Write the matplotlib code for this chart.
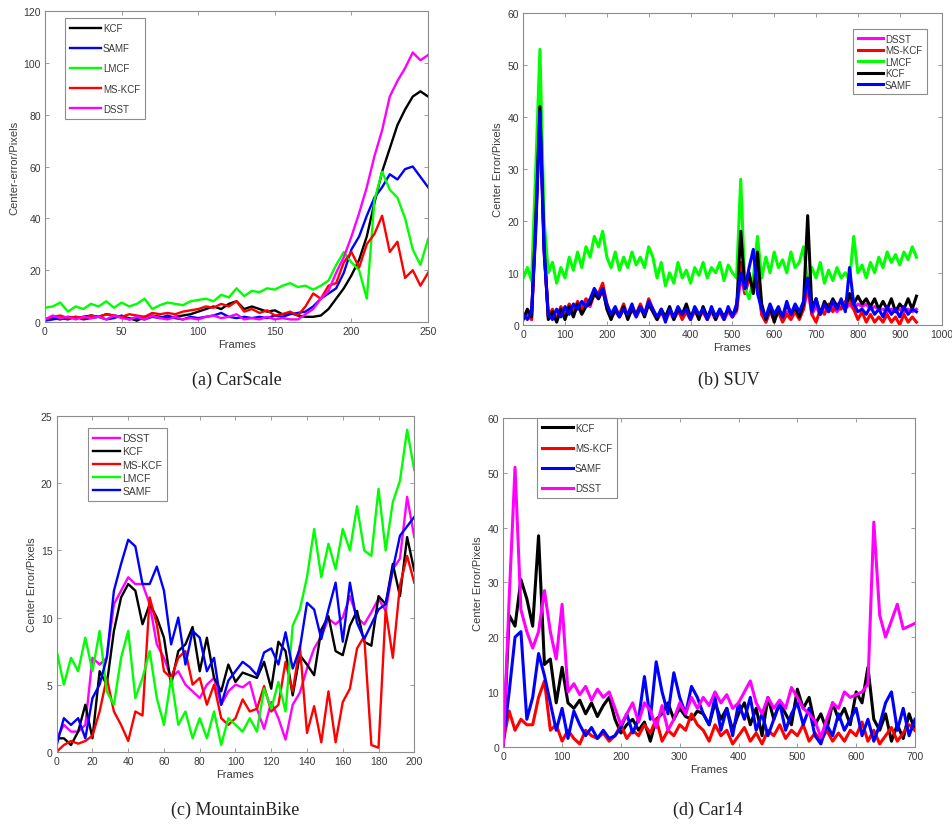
import numpy as np
import matplotlib
matplotlib.use("Agg")
import matplotlib.pyplot as plt

plt.rcParams['font.family'] = ['Liberation Sans', 'DejaVu Sans']

# ---------------- (a) CarScale ----------------
a_frames = np.arange(0, 251, 5)
a_kcf = [1, 1.5, 1, 2, 1.5, 2, 2.5, 2, 3, 2.5,
         2, 1.5, 0.5, 2, 2.5, 2, 1.5, 2, 2.5, 3,
         4, 5, 6, 5, 7, 8, 5, 6, 5, 4,
         4.5, 3, 3.5, 2.5, 2, 2, 2.5, 5, 9, 13,
         18, 24, 33, 46, 58, 67, 76, 82, 87, 89, 87]
a_samf = [0.5, 1, 1.5, 1, 2, 1, 1.5, 2, 1, 1.5,
          2.5, 1, 1.5, 1, 2, 1.5, 2.5, 1.5, 1, 2,
          1.5, 2, 2.5, 3.5, 2, 1.5, 2, 1.5, 2, 1.5,
          2.5, 2, 3, 3.5, 4, 6, 9, 11, 13, 19,
          28, 33, 41, 48, 52, 57, 55, 59, 60, 56, 52]
a_lmcf = [5.5, 6, 7.5, 4, 6, 5, 7, 6, 8, 5.5,
          7.5, 6, 7, 9, 5, 6.5, 7.5, 7, 6.5, 8,
          8.5, 9, 8, 10.5, 9.5, 13, 10, 12, 11.5, 13,
          12.5, 14, 15, 13.5, 14, 12.5, 14, 16, 22, 27,
          23, 20, 9, 47, 58, 51, 48, 40, 28, 22, 32]
a_mskcf = [1, 2, 2.5, 1.5, 2, 1.5, 2.5, 2, 3, 2.5,
           2, 3, 2.5, 2, 3.5, 3, 3.5, 3, 4, 4.5,
           5, 6, 5.5, 7, 6, 8, 4, 5, 3.5, 4.5,
           2.5, 3, 4, 2.5, 6, 11, 9, 14, 15, 23,
           27, 21, 30, 34, 41, 27, 31, 17, 20, 14, 19]
a_dsst = [1, 2.5, 1.5, 2, 1, 2, 1.5, 2, 1, 2.5,
          1.5, 1, 2, 1, 2.5, 1.5, 1, 2, 1, 1.5,
          1, 2, 2.5, 1.5, 2, 3, 1, 1.5, 1, 2,
          1, 1.5, 1, 1, 3, 5, 9, 12, 19, 25,
          33, 42, 52, 64, 74, 87, 93, 98, 104, 101, 103]

# ---------------- (b) SUV ----------------
b_frames = np.arange(0, 941, 10)
b_dsst = [1.5, 2, 1, 19, 41, 14, 1.5, 2, 1, 2.5,
          1.5, 3, 2, 3.5, 2.5, 4, 3.5, 6, 5, 6.5,
          3.5, 1.5, 2.5, 1.5, 3, 1.5, 3, 1.5, 3, 2,
          4, 2.5, 1, 2.5, 1, 2.5, 1, 2.5, 1.5, 2.5,
          1, 2.5, 1.5, 2.5, 1, 2.5, 1, 2.5, 1, 2.5,
          1.5, 2.5, 9, 6, 9, 7, 8, 2, 0.5, 2.5,
          1, 2.5, 1, 2.5, 1.5, 3, 1.5, 3, 7, 2,
          3.5, 2, 3.5, 2.5, 3.5, 2.5, 3.5, 3, 4, 3,
          4, 3.5, 4, 3, 3.5, 3, 3, 2.5, 3, 2.5,
          3, 2.5, 3, 2.5, 3]
b_mskcf = [1.5, 2.5, 1, 21, 43.5, 15, 1.5, 3, 1, 3.5,
           2, 4, 2.5, 4.5, 3, 5, 4, 6.5, 6, 8,
           4, 1.5, 3, 2, 4, 1.5, 3.5, 2, 4, 2,
           5, 3, 1, 2.5, 1, 3, 1.5, 3, 1, 2.5,
           1, 3, 1.5, 2.5, 1, 3, 1.5, 2.5, 1, 3,
           1.5, 3, 12, 6, 9, 7, 12, 2, 0.5, 3,
           1, 2.5, 0.5, 2, 1, 2.5, 1, 3, 8, 2,
           0.5, 3, 2, 4, 2.5, 4, 3, 4.5, 5, 3,
           1, 2.5, 0.5, 2, 0.5, 1.5, 0.5, 2, 0.5, 1.5,
           0, 2, 0.5, 1.5, 0.5]
b_lmcf = [9, 11, 8.5, 30, 53, 20, 10, 12, 8, 11,
          9, 13, 10.5, 14, 11, 15, 13, 17, 15, 18,
          13, 11, 14, 10.5, 13, 11, 14, 11.5, 13, 11,
          15, 13, 9, 12, 7.5, 10, 8, 12, 9, 10.5,
          8, 11, 9.5, 12, 9, 11, 10, 12, 8.5, 11.5,
          10, 9, 28, 7, 5, 9, 17, 9, 13, 10,
          14, 11, 12.5, 10, 14, 11, 12, 15, 8, 11,
          9, 12, 8, 10.5, 8.5, 11, 9, 10, 8.5, 17,
          10, 11.5, 9, 12, 10, 13, 11, 14, 12, 13.5,
          11.5, 14, 12.5, 15, 13]
b_kcf = [1, 3, 1.5, 20, 42, 15, 1, 2.5, 0.5, 3,
         1, 3.5, 1.5, 4, 2, 3.5, 4, 6, 5, 7,
         3, 1, 3, 1.5, 3.5, 1, 3, 2, 3.5, 1.5,
         4, 2.5, 1, 3, 1.5, 3.5, 1, 3, 2, 4,
         1.5, 3, 1, 3.5, 1.5, 3, 1, 3, 1.5, 3,
         2, 3, 18, 7, 10, 6, 14, 4, 1, 3.5,
         0.5, 3, 1.5, 4, 2, 3.5, 1.5, 4, 21, 3,
         5, 2, 4.5, 3, 5, 3.5, 4.5, 3, 6, 4,
         5.5, 4, 5, 3.5, 5, 3, 4.5, 3, 5, 2.5,
         4, 3, 5, 3, 5.5]
b_samf = [2, 1, 2.5, 18, 41, 14, 2, 1, 3, 1.5,
          3.5, 2, 4, 3, 4.5, 3.5, 5, 7, 5.5, 7,
          4, 2, 3.5, 1.5, 3, 2, 4, 1.5, 3.5, 2,
          4.5, 3, 1.5, 3, 0.5, 3, 1.5, 3.5, 2, 3,
          1, 3.5, 2, 3, 1, 3.5, 1.5, 3, 1, 3.5,
          1.5, 4, 10, 7, 11, 14.5, 6, 3, 1.5, 4,
          2, 3.5, 1.5, 4.5, 2, 4, 2.5, 4.5, 9, 2.5,
          5, 2, 4, 2.5, 4.5, 3, 5, 2.5, 11, 4,
          2.5, 3, 2, 3.5, 2, 3, 1.5, 3.5, 2, 3,
          1.5, 3.5, 2, 3, 2.5]

# ---------------- (c) MountainBike ----------------
c_frames = np.arange(0, 201, 4)
c_dsst = [1, 2, 1.5, 1.5, 2, 7, 6.5, 7, 11, 12,
          13, 12.5, 12.5, 11, 8, 7, 5.5, 6, 5, 4.5,
          4, 5, 5.5, 3.5, 4.5, 5, 4.8, 5.2, 3.2, 1.7,
          3.7, 2.5, 0.9, 3.5, 4.4, 6.2, 7.7, 8.6, 9.9, 9.5,
          10, 11.6, 10, 9.5, 10.4, 11.4, 10.5, 13.6, 14.4, 19, 16]
c_kcf = [1, 1, 0.5, 1.5, 3.5, 1, 6, 5, 9, 11.5,
         12.5, 12, 9.5, 11, 10, 8.5, 5, 7.5, 8, 9.3,
         6, 8.5, 5.5, 4.5, 6.5, 5.2, 5.9, 5.7, 5.5, 6.7,
         4.7, 8.2, 7.5, 4.2, 7.2, 6.5, 5.7, 9.1, 10.1, 7.5,
         7.2, 9.4, 10.5, 8.2, 7.9, 11.6, 11, 14, 11.6, 16, 13.5]
c_mskcf = [0, 0.5, 0.8, 0.6, 0.8, 1.2, 3, 5.5, 3, 2,
           0.8, 3, 2.7, 11.5, 9.5, 6, 5.5, 7, 7.5, 5,
           5.5, 3.5, 5, 2.5, 2, 2.5, 3.9, 3, 3.2, 4.9,
           3, 3.5, 6.7, 4.5, 7.9, 1.4, 3.4, 0.7, 4.5, 0.7,
           3.7, 4.7, 7.7, 8.6, 0.5, 0.3, 10.6, 7, 12.4, 14.6, 12.6]
c_lmcf = [7.5, 5, 7, 6, 8.5, 6, 9, 4.5, 3.5, 7,
          9, 4, 5.5, 7.5, 4, 2, 5.5, 2, 3, 1,
          2.5, 1, 3, 0.5, 2.5, 2, 1.5, 2.5, 1.5, 4.7,
          3.2, 5.2, 3, 9.4, 10.6, 13, 16.6, 13, 15.5, 13.6,
          16.6, 15, 18.3, 15, 14.6, 19.6, 15, 18.6, 20.2, 24, 21]
c_samf = [0.5, 2.5, 2, 2.5, 1, 4, 5, 7, 12, 14,
          15.8, 15.3, 12.5, 12.5, 13.8, 12, 8, 10, 6.5, 9,
          8.5, 6, 7, 3.5, 5.3, 6, 6.7, 6.3, 5.7, 7.4,
          7.7, 6.5, 8.9, 6.2, 7.7, 11.1, 10.6, 8.4, 10.6, 12.6,
          8.2, 12.6, 9.6, 8.4, 9.5, 10.6, 11, 13.6, 16.1, 16.8, 17.5]

# ---------------- (d) Car14 ----------------
d_frames = np.arange(0, 701, 10)
d_kcf = [0, 24, 22, 30.5, 27, 22, 38.5, 15, 16, 8,
         14.5, 8, 7, 8.5, 6, 8, 5.5, 7.5, 9, 5,
         2.5, 4, 5, 3, 4.5, 1, 5, 6, 8, 5,
         7, 5.5, 5, 6.5, 6, 4, 8, 5, 7, 3,
         6, 8, 4, 7, 2, 9, 5, 8, 6, 4,
         10.5, 7, 9, 4, 6, 3, 8, 5, 7, 4,
         10, 8, 14.5, 5, 3, 6, 1, 4, 1.5, 6, 3]
d_mskcf = [1, 6.5, 3, 5, 4, 4, 9, 12, 3, 4,
           1, 3, 1.5, 0.5, 3, 2, 1.5, 2.5, 1, 2,
           4, 1.5, 3, 2, 4, 2.5, 5, 1, 3, 2,
           4, 3, 6, 4, 3, 1, 4, 2, 3, 0.5,
           2, 3.5, 1, 2.5, 0.5, 3, 2, 4, 1.5, 3,
           2, 4, 1, 2.5, 1, 3, 1, 2.5, 1, 3,
           2, 4.5, 1, 3, 0.5, 2, 3.5, 1, 2.5, 4, 3]
d_samf = [1, 10, 20, 21, 5, 9, 17, 13, 8, 3,
          7, 1.5, 6.5, 4, 2, 3.5, 1.5, 3, 1.5, 2,
          3.5, 6, 2.5, 5, 12.8, 5, 15.5, 10, 6, 13.5,
          9, 6, 11, 9, 6, 4, 9, 3, 7, 2,
          8, 5, 9, 3, 6, 2, 5, 8, 3, 6,
          8, 4, 7, 2, 0.5, 4, 2, 6, 3, 5,
          7, 2, 5, 1, 4, 8, 10, 3, 7, 2, 5]
d_dsst = [0, 27, 51, 25, 21, 18, 21, 28.5, 21, 16,
          26, 10, 11.5, 9.5, 11, 8.5, 10.5, 9, 10, 7,
          4, 6, 8, 4.5, 8, 6.6, 3.5, 7.5, 3, 5,
          8, 6, 9, 7, 9, 7.5, 10, 8, 9.5, 7,
          8, 10, 12, 8, 6, 9, 7, 8.5, 7, 10.8,
          9, 7, 6, 4.7, 1.7, 5, 8, 7, 10, 9,
          9.5, 10, 11.4, 41, 24, 20, 23, 26, 21.5, 22, 22.5]

col = {'KCF': 'black', 'SAMF': '#0000ff', 'LMCF': '#00ff00',
       'MS-KCF': '#ff0000', 'DSST': '#ff00ff'}
spine_col = '#8c8c8c'
txt_col = '#3a3a3a'


def style(ax, xlim, ylim, xticks, yticks, ylabel):
    ax.set_xlim(xlim)
    ax.set_ylim(ylim)
    ax.set_xticks(xticks)
    ax.set_yticks(yticks)
    ax.tick_params(direction='in', top=True, right=True, length=3,
                   width=0.6, labelsize=7.5, colors=spine_col,
                   labelcolor=txt_col, pad=3)
    for s in ax.spines.values():
        s.set_color(spine_col)
        s.set_linewidth(0.8)
    ax.set_xlabel('Frames', fontsize=8, color=txt_col, labelpad=2)
    ax.set_ylabel(ylabel, fontsize=8, color=txt_col, labelpad=3)


def legend(ax, loc, anchor, spacing, fs, hl):
    lg = ax.legend(loc=loc, bbox_to_anchor=anchor, borderaxespad=0,
                   fontsize=fs, labelspacing=spacing, handlelength=hl,
                   handletextpad=0.2, borderpad=0.5, fancybox=False,
                   framealpha=1, edgecolor=spine_col)
    lg.get_frame().set_linewidth(0.8)
    for t in lg.get_texts():
        t.set_color(txt_col)


fig = plt.figure(figsize=(9.53, 8.28), dpi=100)

# (a)
ax = fig.add_axes([0.0472, 0.6099, 0.402, 0.3756])
for name, data in [('KCF', a_kcf), ('SAMF', a_samf), ('LMCF', a_lmcf),
                   ('MS-KCF', a_mskcf), ('DSST', a_dsst)]:
    ax.plot(a_frames, data, color=col[name], lw=1.7, label=name)
style(ax, (0, 250), (0, 120), range(0, 251, 50), range(0, 121, 20),
      'Center-error/Pixels')
legend(ax, 'upper left', (0.052, 0.977), 1.05, 7, 3.2)

# (b)
ax = fig.add_axes([0.549, 0.6066, 0.439, 0.3765])
for name, data in [('DSST', b_dsst), ('MS-KCF', b_mskcf), ('LMCF', b_lmcf),
                   ('KCF', b_kcf), ('SAMF', b_samf)]:
    ax.plot(b_frames, data, color=col[name], lw=2.2, label=name)
style(ax, (0, 1000), (0, 60), range(0, 1001, 100), range(0, 61, 10),
      'Center Error/Pixels')
legend(ax, 'upper right', (0.965, 0.949), 0.15, 7, 2.6)

# (c)
ax = fig.add_axes([0.0595, 0.0909, 0.3752, 0.4051])
for name, data in [('DSST', c_dsst), ('KCF', c_kcf), ('MS-KCF', c_mskcf),
                   ('LMCF', c_lmcf), ('SAMF', c_samf)]:
    ax.plot(c_frames, data, color=col[name], lw=1.7, label=name)
style(ax, (0, 200), (0, 25), range(0, 201, 20), range(0, 26, 5),
      'Center Error/Pixels')
legend(ax, 'upper left', (0.0875, 0.965), 0.3, 7.5, 2.6)

# (d)
ax = fig.add_axes([0.5281, 0.097, 0.432, 0.397])
for name, data in [('KCF', d_kcf), ('MS-KCF', d_mskcf), ('SAMF', d_samf),
                   ('DSST', d_dsst)]:
    ax.plot(d_frames, data, color=col[name], lw=2.2, label=name)
style(ax, (0, 700), (0, 60), range(0, 701, 100), range(0, 61, 10),
      'Center Error/Pixels')
legend(ax, 'upper left', (0.082, 1.0), 1.05, 7, 3.2)

cap = dict(fontsize=13, family=['Liberation Serif', 'DejaVu Serif'],
           ha='center', va='center', color='#222222')
fig.text(237 / 953, 1 - 380 / 828, '(a) CarScale', **cap)
fig.text(729 / 953, 1 - 380 / 828, '(b) SUV', **cap)
fig.text(235 / 953, 1 - 810 / 828, '(c) MountainBike', **cap)
fig.text(708 / 953, 1 - 810 / 828, '(d) Car14', **cap)

fig.savefig('out.png', dpi=100)
